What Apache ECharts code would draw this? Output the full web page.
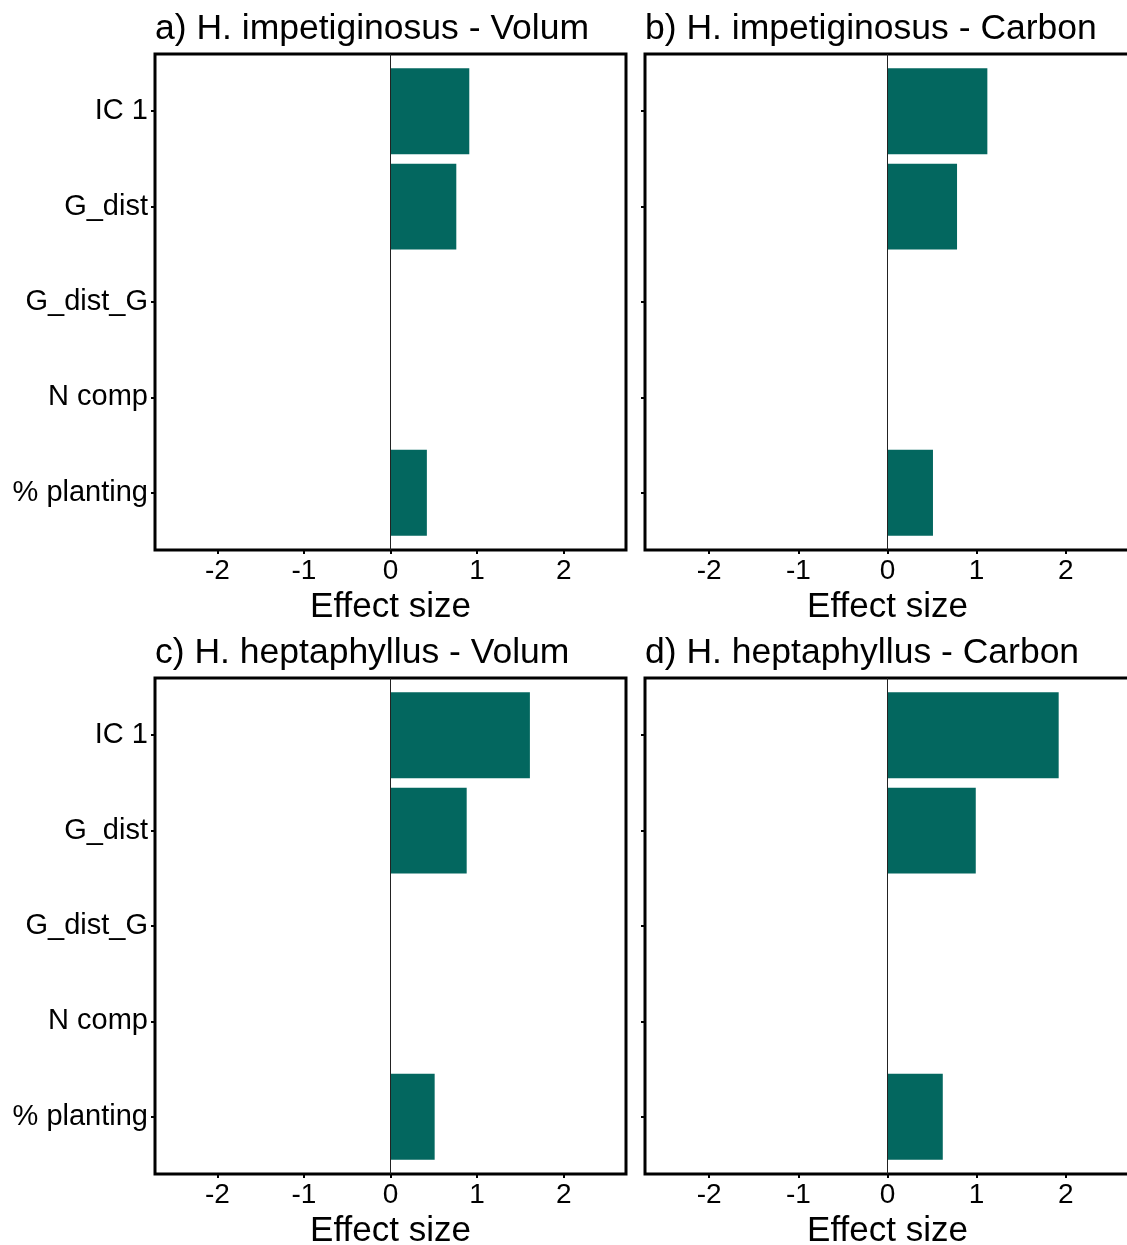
<!DOCTYPE html>
<html>
<head>
<meta charset="utf-8">
<script src="https://cdn.jsdelivr.net/npm/echarts@6/dist/echarts.min.js"></script>
<style>
  html, body { margin: 0; padding: 0; background: #fff; }
  #main { width: 1127px; height: 1245px; }
</style>
</head>
<body>
<div id="main"></div>
<script>
// categories (top to bottom) and effect sizes
var categories = ['IC 1', 'G_dist', 'G_dist_G', 'N comp', '% planting'];
var panelTitles = [
  'a) H. impetiginosus - Volum',
  'b) H. impetiginosus - Carbon',
  'c) H. heptaphyllus - Volum',
  'd) H. heptaphyllus - Carbon'
];
var impetVolum = [0.91, 0.76, 0, 0, 0.42];
var impetCarbon = [1.12, 0.78, 0, 0, 0.51];
var heptaVolum = [1.61, 0.88, 0, 0, 0.51];
var heptaCarbon = [1.92, 0.99, 0, 0, 0.62];
var xTicks = [-2, -1, 0, 1, 2];

var panelValues = [impetVolum, impetCarbon, heptaVolum, heptaCarbon];
var barColor = '#03675f';
var fontFamily = 'Liberation Sans, Arial, sans-serif';

var myChart = echarts.init(document.getElementById('main'));

// grid boxes (frame of each ggplot panel)
var boxes = [
  { left: 155, top: 54, width: 471, height: 496 },
  { left: 645, top: 54, width: 485, height: 496 },
  { left: 155, top: 678, width: 471, height: 496 },
  { left: 645, top: 678, width: 485, height: 496 }
];

function renderBar(params, api) {
  var v = api.value(0);
  var c = api.value(1);
  if (!v) return null;
  var p0 = api.coord([0, c]);
  var p1 = api.coord([v, c]);
  var h = api.size([0, 0.9])[1];
  return {
    type: 'rect',
    shape: { x: p0[0], y: p0[1] - h / 2, width: p1[0] - p0[0], height: h },
    style: { fill: barColor }
  };
}

var grids = [], xAxes = [], yAxes = [], series = [], titles = [];
boxes.forEach(function (b, i) {
  grids.push({
    left: b.left, top: b.top, width: b.width, height: b.height,
    outerBoundsMode: 'none', containLabel: false,
    show: true, borderColor: '#000', borderWidth: 3, backgroundColor: '#fff'
  });
  titles.push({
    text: panelTitles[i],
    left: b.left - 5, top: b.top - 48,
    textStyle: { fontFamily: fontFamily, fontSize: 35.5, fontWeight: 'normal', color: '#000' }
  });
  xAxes.push({
    gridIndex: i, type: 'value', min: -2.72, max: 2.72,
    name: 'Effect size', nameLocation: 'middle', nameGap: 40,
    nameTextStyle: { fontFamily: fontFamily, fontSize: 35, color: '#000' },
    axisLine: { show: false, onZero: false },
    splitLine: { show: false },
    axisTick: { show: true, customValues: xTicks, length: 4, lineStyle: { color: '#000', width: 2 } },
    axisLabel: { customValues: xTicks, margin: 7, fontFamily: fontFamily, fontSize: 28, color: '#000' }
  });
  yAxes.push({
    gridIndex: i, type: 'value', min: 0.4, max: 5.6, inverse: true,
    axisLine: { show: false, onZero: false },
    splitLine: { show: false },
    axisTick: { show: true, customValues: [1, 2, 3, 4, 5], length: 4, lineStyle: { color: '#000', width: 2 } },
    axisLabel: {
      show: i % 2 === 0,
      customValues: [1, 2, 3, 4, 5],
      margin: 7,
      fontFamily: fontFamily, fontSize: 29, color: '#000',
      formatter: function (v) { return categories[Math.round(v) - 1]; }
    }
  });
  series.push({
    type: 'custom',
    xAxisIndex: i, yAxisIndex: i,
    renderItem: renderBar,
    data: panelValues[i].map(function (v, k) { return [v, k + 1]; }),
    markLine: {
      silent: true, symbol: 'none', label: { show: false },
      lineStyle: { color: '#222', width: 1, type: 'solid' },
      data: [{ xAxis: 0 }]
    },
    z: 3
  });
});

var option = {
  backgroundColor: '#fff',
  animation: false,
  title: titles,
  grid: grids,
  xAxis: xAxes,
  yAxis: yAxes,
  series: series
};

myChart.setOption(option);
</script>
</body>
</html>
